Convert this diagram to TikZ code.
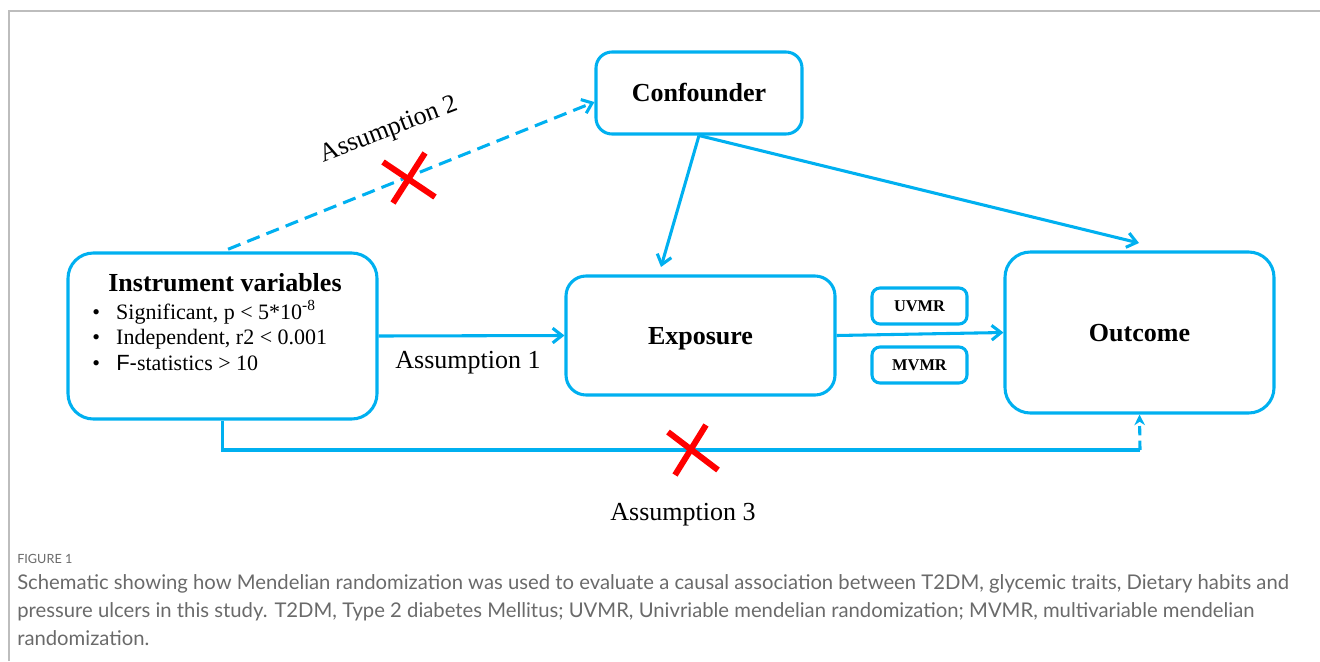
\documentclass[tikz,border=0pt]{standalone}
\usepackage{fontspec}
\setmainfont{Liberation Serif}
\newfontfamily\capfont{Lato}
\newfontfamily\arialfont{Liberation Sans}
\usetikzlibrary{arrows.meta}
\definecolor{mrblue}{HTML}{00B0F0}
\definecolor{mrred}{HTML}{FF0000}
\definecolor{framegrey}{HTML}{BDBDBD}
\definecolor{capgrey}{HTML}{6A6A6A}
\begin{document}
\begin{tikzpicture}[x=0.75pt,y=-0.75pt,
  box/.style={draw=mrblue, line width=2.3pt, inner sep=0pt, fill=white},
  boxlabel/.style={font=\fontsize{19.5}{22}\selectfont\bfseries, text height=13pt, text depth=0pt},
  smalllabel/.style={font=\fontsize{12.3}{14}\selectfont\bfseries, text height=8.2pt, text depth=0pt},
  link/.style={draw=mrblue, line width=2.3pt},
  arr/.style={link, -{Straight Barb[length=7pt,width=11pt]}},
  dashlink/.style={link, dash pattern=on 10pt off 5.5pt},
  cross/.style={draw=mrred, line width=4.5pt},
  asm/.style={font=\fontsize{19.5}{22}\selectfont},
  bul/.style={font=\fontsize{16.5}{19}\selectfont, anchor=base west, inner sep=0pt},
  captxt/.style={font=\capfont\fontsize{15.2}{18}\selectfont, text=capgrey, anchor=base west, inner sep=0pt}
]
\useasboundingbox (0,0) rectangle (1320,661);
% frame
\draw[framegrey, line width=1.6pt] (9,661) -- (9,11) -- (1320,11);

% boxes
\node[box, rounded corners=19pt, minimum width=231.75pt, minimum height=124.5pt] (iv) at (222.5,336) {};
\node[box, rounded corners=15pt, minimum width=201.75pt, minimum height=89.25pt, boxlabel] (exp) at (700.5,335.5) {Exposure};
\node[box, rounded corners=12pt, minimum width=154.5pt, minimum height=61.5pt, boxlabel] (conf) at (699,93) {Confounder};
\node[box, rounded corners=19pt, minimum width=201.75pt, minimum height=120.75pt, boxlabel] (out) at (1139.5,332.5) {Outcome};
\node[box, rounded corners=6pt, minimum width=71.25pt, minimum height=27pt, smalllabel] (uvmr) at (919.5,306) {UVMR};
\node[box, rounded corners=6pt, minimum width=71.25pt, minimum height=27pt, smalllabel] (mvmr) at (919.5,365) {MVMR};

% instrument box text
\node[font=\fontsize{19.5}{22}\selectfont\bfseries, anchor=base, inner sep=0pt] (ivtitle) at (225,291) {Instrument variables};
\node[bul] (b1) at (92,319) {\makebox[18pt][l]{\textbullet}Significant, p < 5*10\textsuperscript{-8}};
\node[bul] (b2) at (92,344.5) {\makebox[18pt][l]{\textbullet}Independent, r2 < 0.001};
\node[bul] (b3) at (92,370) {\makebox[18pt][l]{\textbullet}{\arialfont F-}statistics > 10};

% coordinates
\coordinate (c2e) at (661,267);
\coordinate (c2o) at (1139,243);
\coordinate (a3c) at (1140,450);

% connectors
\draw[arr] (iv.east) -- (exp.west);
\draw[arr] (exp.east) -- (out.west);
\draw[arr] (conf.south) -- (c2e);
\draw[arr] (conf.south) -- (c2o);
\draw[dashlink, -{Straight Barb[length=7pt,width=11pt]}, shorten <=4.5pt] (iv.north) -- (conf.west |- 0,102);
\draw[link] (iv.south) |- (a3c);
\draw[dashlink, dash pattern=on 7pt off 4pt, -{Stealth[length=8pt,width=8pt]}] (a3c) -- (out.south);

% labels
\node[asm, anchor=base] (a1) at (468,368) {Assumption 1};
\node[asm, anchor=base, rotate=21] (a2) at (391,136) {Assumption 2};
\node[asm, anchor=base] (a3) at (683,520) {Assumption 3};

% red crosses
\draw[cross] (383,162) -- (435,197);
\draw[cross] (425,153) -- (393,203);
\draw[cross] (668,432) -- (718,470);
\draw[cross] (706,425) -- (675,475);

% caption
\node[captxt, font=\capfont\fontsize{9.5}{11}\selectfont] (fig) at (17,563) {FIGURE 1};
\node[captxt] (l1) at (17,589) {Schematic showing how Mendelian randomization was used to evaluate a causal association between T2DM, glycemic traits, Dietary habits and};
\node[captxt] (l2) at (17,617) {pressure ulcers in this study. T2DM, Type 2 diabetes Mellitus; UVMR, Univriable mendelian randomization; MVMR, multivariable mendelian};
\node[captxt] (l3) at (17,645) {randomization.};
\end{tikzpicture}
\end{document}
